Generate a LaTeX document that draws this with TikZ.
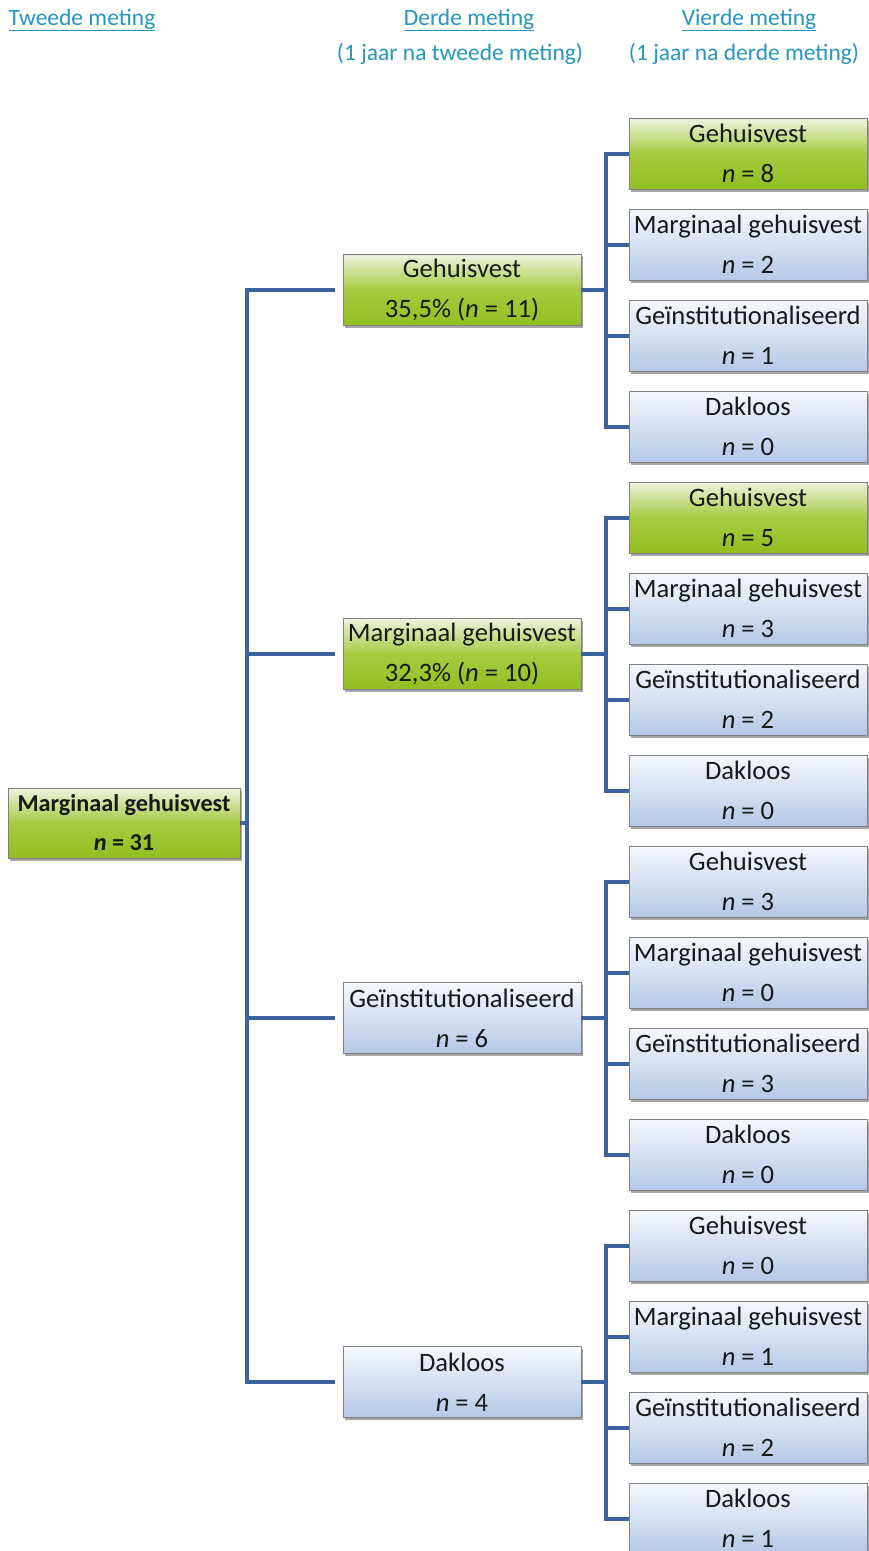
\documentclass[tikz,border=0pt]{standalone}
\usepackage{fontspec}
\setmainfont{Carlito}
\usetikzlibrary{shadows}
\definecolor{hdrc}{HTML}{2596BE}
\definecolor{wirec}{HTML}{3A62A0}
\definecolor{bordc}{HTML}{7F7F7F}
\definecolor{grnT}{HTML}{EEF3E0}
\definecolor{grnM}{HTML}{A6CB40}
\definecolor{grnB}{HTML}{93BF22}
\definecolor{bluT}{HTML}{F5F8FD}
\definecolor{bluB}{HTML}{B5C8E8}
\newcommand\nval[1]{\textit{n} = #1}
\tikzset{
  bx/.style={draw=bordc, line width=0.8pt, minimum width=238pt, minimum height=71pt,
    inner sep=0pt, align=center, font=\fontsize{26.6}{40}\selectfont, text=black!90,
    drop shadow={shadow xshift=2pt, shadow yshift=-2.5pt, opacity=0.35, fill=black}},
  grn/.style={bx, top color=grnT, bottom color=grnB, middle color=grnM},
  blu/.style={bx, top color=bluT, bottom color=bluB},
  wire/.style={draw=wirec, line width=4pt},
  hdr/.style={text=hdrc, font=\fontsize{23.5}{28}\selectfont, inner sep=0pt},
}
\begin{document}
\begin{tikzpicture}[x=1pt,y=-1pt]
\useasboundingbox (0,0) rectangle (868,1551);
\fill[white] (0,0) rectangle (868,1551);
% headers
\node[hdr] (h1) at (82,20) {\underline{Tweede meting}};
\node[hdr] (h2) at (469,20) {\underline{Derde meting}};
\node[hdr] (h2b) at (460,54) {(1 jaar na tweede meting)};
\node[hdr] (h3) at (749,20) {\underline{Vierde meting}};
\node[hdr] (h3b) at (744,54) {(1 jaar na derde meting)};
% root
\node[grn, minimum width=232pt, minimum height=70pt, font=\fontsize{24.2}{39}\selectfont\bfseries] (r) at (124,823) {Marginaal gehuisvest\\\nval{31}};
% level 2
\node[grn] (a) at (462,290) {Gehuisvest\\35,5\% (\textit{n} = 11)};
\node[grn] (b) at (462,654) {Marginaal gehuisvest\\32,3\% (\textit{n} = 10)};
\node[blu] (c) at (462,1018) {Geïnstitutionaliseerd\\\nval{6}};
\node[blu] (d) at (462,1382) {Dakloos\\\nval{4}};
% level 3
\node[grn] (a1) at (748,153.5) {Gehuisvest\\\nval{8}};
\node[blu] (a2) at (748,244.5) {Marginaal gehuisvest\\\nval{2}};
\node[blu] (a3) at (748,335.5) {Geïnstitutionaliseerd\\\nval{1}};
\node[blu] (a4) at (748,426.5) {Dakloos\\\nval{0}};
\node[grn] (b1) at (748,517.5) {Gehuisvest\\\nval{5}};
\node[blu] (b2) at (748,608.5) {Marginaal gehuisvest\\\nval{3}};
\node[blu] (b3) at (748,699.5) {Geïnstitutionaliseerd\\\nval{2}};
\node[blu] (b4) at (748,790.5) {Dakloos\\\nval{0}};
\node[blu] (c1) at (748,881.5) {Gehuisvest\\\nval{3}};
\node[blu] (c2) at (748,972.5) {Marginaal gehuisvest\\\nval{0}};
\node[blu] (c3) at (748,1063.5) {Geïnstitutionaliseerd\\\nval{3}};
\node[blu] (c4) at (748,1154.5) {Dakloos\\\nval{0}};
\node[blu] (d1) at (748,1245.5) {Gehuisvest\\\nval{0}};
\node[blu] (d2) at (748,1336.5) {Marginaal gehuisvest\\\nval{1}};
\node[blu] (d3) at (748,1427.5) {Geïnstitutionaliseerd\\\nval{2}};
\node[blu] (d4) at (748,1518.5) {Dakloos\\\nval{1}};
% connectors root -> level 2
\foreach \t in {a,b,c,d}
  \draw[wire, shorten >=8pt] (r.east) -- ++(7,0) |- (\t.west);
% connectors level 2 -> level 3
\foreach \p in {a,b,c,d}
  \foreach \k in {1,2,3,4}
    \draw[wire] (\p.east) -- ++(25,0) |- (\p\k.west);
\end{tikzpicture}
\end{document}
